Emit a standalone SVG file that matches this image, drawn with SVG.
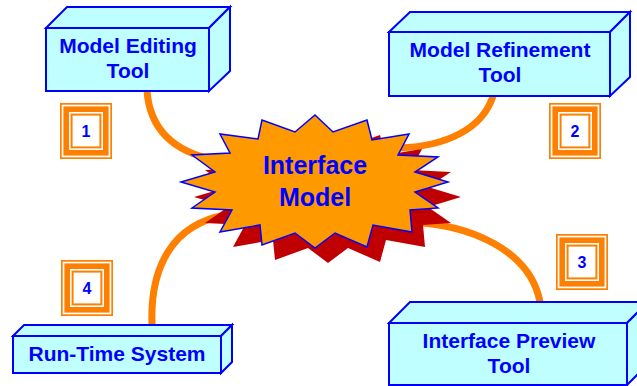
<svg xmlns="http://www.w3.org/2000/svg" width="637" height="386" viewBox="0 0 637 386">
<style>
.face{fill:#C0FFFF;stroke:#0000FF;stroke-width:2;stroke-linejoin:miter}
.lbl{font-family:"Liberation Sans",Arial,sans-serif;font-weight:bold;font-size:21px;fill:#0000FF;text-anchor:middle}
.num{font-family:"Liberation Sans",Arial,sans-serif;font-weight:bold;font-size:16px;fill:#0000FF;text-anchor:middle}
.star{font-family:"Liberation Sans",Arial,sans-serif;font-weight:bold;font-size:25px;fill:#0000FF;text-anchor:middle}
.wire{fill:none;stroke:#FF8000;stroke-width:7}
</style>
<defs>
<g id="badge">
<rect x="0" y="0" width="52" height="56" fill="#FFFFFF"/>
<rect x="0.85" y="0.85" width="50.3" height="54.3" fill="none" stroke="#FF8000" stroke-width="1.7"/>
<rect x="6.2" y="6.2" width="39.6" height="43.6" fill="none" stroke="#FF8000" stroke-width="5.6"/>
<rect x="11.6" y="11.6" width="28.8" height="32.8" fill="#FFFFFF" stroke="#FF8000" stroke-width="2"/>
</g>
<polygon id="burst" points="315,115 333,132 367,120 372,140 409,134 398,155 438,157 415,172 448,182 415,192 438,208 410,210 412,232 373,225 367,247 335,233 315,248 295,233 262,245 260,225 220,232 232,210 192,208 215,192 181,182 215,172 192,155 230,153 220,134 258,139 262,120 295,132"/>
</defs>
<rect width="637" height="386" fill="#FFFFFF"/>
<g id="connectors">
<path class="wire" d="M147,91 C150,130 175,152 215,160"/>
<path class="wire" d="M493,96 C482,130 445,146 400,148"/>
<path class="wire" d="M540,302 C530,250 470,224 408,222"/>
<path class="wire" d="M152,324 C150,268 172,224 226,215"/>
</g>
<g id="interface-model">
<use href="#burst" transform="translate(13,15)" fill="#C00000"/>
<use href="#burst" fill="#FF9900" stroke="#0000FF" stroke-width="1.5"/>
<text class="star" x="315" y="174">Interface</text>
<text class="star" x="315" y="206">Model</text>
</g>
<g id="model-editing-tool">
<polygon class="face" points="46,28 67,7 230,7 209,28"/>
<polygon class="face" points="209,28 230,7 230,71 209,91"/>
<rect class="face" x="46" y="28" width="163" height="63"/>
<text class="lbl" x="128" y="53">Model Editing</text>
<text class="lbl" x="128" y="78">Tool</text>
</g>
<g id="model-refinement-tool">
<polygon class="face" points="389,32 410,12 630,12 610,32"/>
<polygon class="face" points="610,32 630,12 630,77 610,96"/>
<rect class="face" x="389" y="32" width="221" height="64"/>
<text class="lbl" x="500" y="57">Model Refinement</text>
<text class="lbl" x="500" y="82">Tool</text>
</g>
<g id="interface-preview-tool">
<polygon class="face" points="389,323 410,302 648,302 627,323"/>
<polygon class="face" points="627,323 648,302 648,364 627,385"/>
<rect class="face" x="389" y="323" width="238" height="62"/>
<text class="lbl" x="509" y="348">Interface Preview</text>
<text class="lbl" x="509" y="373">Tool</text>
</g>
<g id="run-time-system">
<polygon class="face" points="13,336 24,325 232,325 221,336"/>
<polygon class="face" points="221,336 232,325 232,362 221,373"/>
<rect class="face" x="13" y="336" width="208" height="37"/>
<text class="lbl" x="117" y="361">Run-Time System</text>
</g>
<g id="step-1">
<use href="#badge" x="60" y="103"/>
<text class="num" x="86" y="137">1</text>
</g>
<g id="step-2">
<use href="#badge" x="549" y="103"/>
<text class="num" x="575" y="137">2</text>
</g>
<g id="step-3">
<use href="#badge" x="556" y="234"/>
<text class="num" x="582" y="268">3</text>
</g>
<g id="step-4">
<use href="#badge" x="61" y="260"/>
<text class="num" x="87" y="294">4</text>
</g>
</svg>
